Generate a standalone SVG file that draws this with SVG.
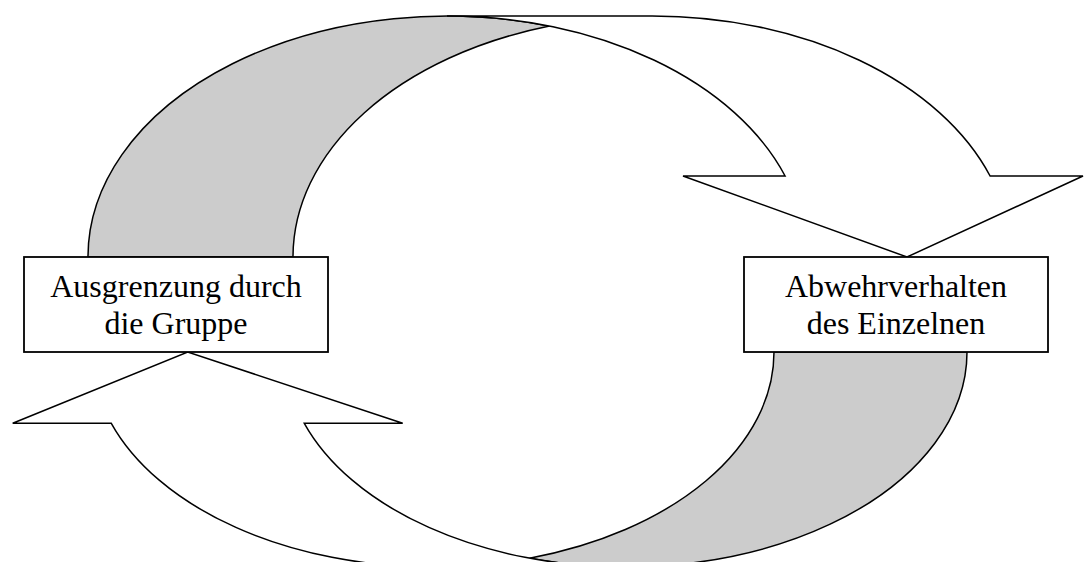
<svg xmlns="http://www.w3.org/2000/svg" width="1085" height="562" viewBox="0 0 1085 562">
  <style>
    .band { stroke: #000; stroke-width: 1.5; stroke-linejoin: miter; }
    .shade { fill: #cccccc; }
    .light { fill: #ffffff; }
    .box { fill: #ffffff; stroke: #000; stroke-width: 1.8; }
    .label { font-family: "Liberation Serif", "Times New Roman", serif; font-size: 32px; fill: #000; text-anchor: middle; }
  </style>
  <rect width="1085" height="562" fill="#ffffff"/>
  <g id="connectors">
    <g id="arrow-top">
      <path class="band shade" d="M 88,257 A 359 241 0 0 1 549.5,26.03 A 359 241 0 0 0 293,257 Z"/>
      <path class="band light" d="M 447,16 L 652,16 A 359 241 0 0 1 990.1,176 L 1083,176 L 907,257 L 683,176 L 785.1,176 A 359 241 0 0 0 447,16 Z"/>
    </g>
    <g id="arrow-bottom">
      <path class="band shade" d="M 967,352 A 341 215 0 0 1 529.5,558.2 A 341 215 0 0 0 774,352 Z"/>
      <path class="band light" d="M 626,567 L 433,567 A 341 215 0 0 1 111.3,423.3 L 12.7,423.3 L 187.7,352 L 402.7,423.3 L 304.3,423.3 A 341 215 0 0 0 626,567 Z"/>
    </g>
  </g>
  <g id="node-ausgrenzung">
    <rect class="box" x="24" y="257" width="304" height="95"/>
    <text class="label"><tspan x="176" y="297">Ausgrenzung durch</tspan><tspan x="176" y="333.5">die Gruppe</tspan></text>
  </g>
  <g id="node-abwehrverhalten">
    <rect class="box" x="744" y="257" width="304" height="95"/>
    <text class="label"><tspan x="896" y="297">Abwehrverhalten</tspan><tspan x="896" y="333.5">des Einzelnen</tspan></text>
  </g>
</svg>
